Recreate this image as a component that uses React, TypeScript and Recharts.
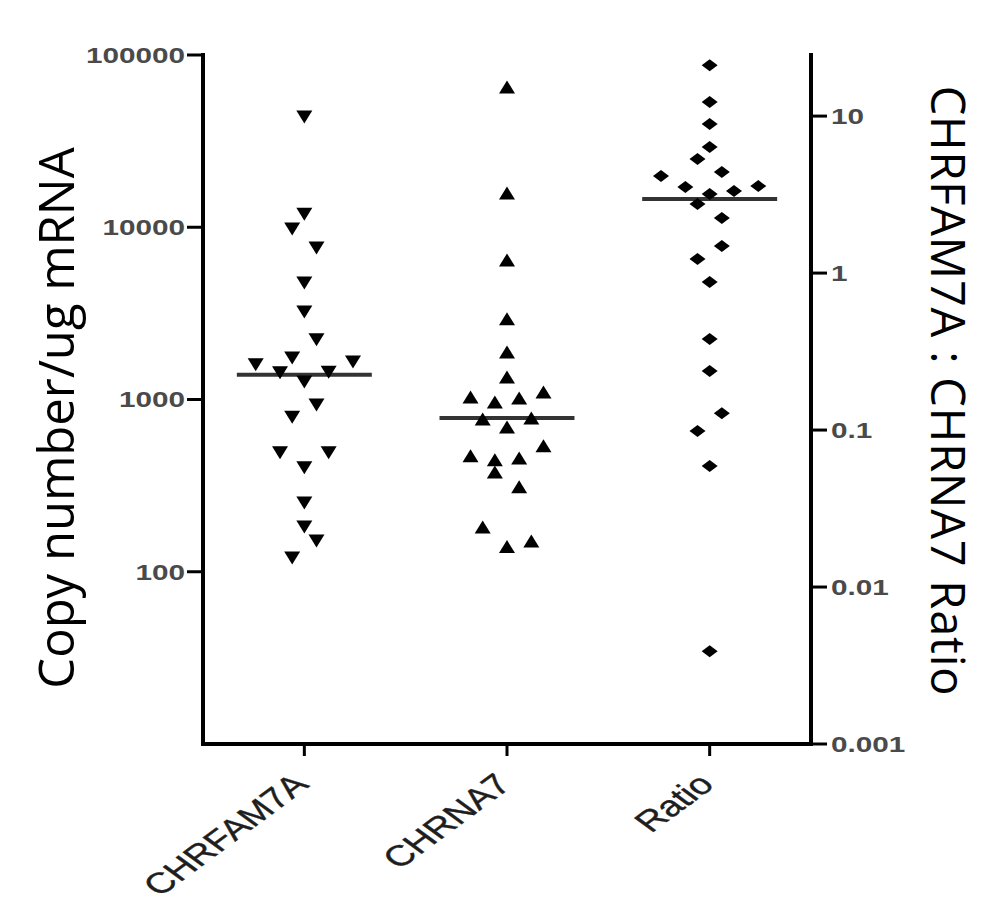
import { ScatterChart, Scatter, XAxis, YAxis, ReferenceLine, Label } from "recharts";

// group names along the x axis
const categories = ["CHRFAM7A", "CHRNA7", "Ratio"];

const chrfam7aValues = [43600, 11900, 9770, 7590, 4750, 3220, 2220, 1740, 1590, 1650, 1430, 1440, 1265, 930, 790, 490, 490, 401, 251, 182, 151, 120];
// horizontal spread slot of each point (Prism-style column scatter)
const chrfam7aSlots = [0, 0, -1, 1, 0, 0, 1, -1, -4, 4, -2, 2, 0, 1, -1, -2, 2, 0, 0, 0, 1, -1];

const chrna7Values = [65200, 15800, 6460, 2940, 1890, 1350, 1035, 968, 1020, 1107, 771, 781, 693, 538, 471, 447, 458, 380, 311, 182, 151, 140];
const chrna7Slots = [0, 0, 0, 0, 0, 0, -3, -1, 1, 3, -2, 2, 0, 3, -3, -1, 1, -1, 1, -2, 2, 0];

const ratioValues = [21.1, 12.3, 8.9, 6.35, 5.32, 4.15, 4.4, 3.53, 3.19, 3.33, 3.58, 2.75, 2.24, 1.49, 1.23, 0.877, 0.38, 0.238, 0.128, 0.0987, 0.059, 0.0039];
const ratioSlots = [0, 0, 0, 0, -1, -4, 1, -2, 0, 2, 4, -1, 1, 1, -1, 0, 0, 0, 1, -1, 0, 0];

const medians = [1390, 781, 2.96];

const leftTicks = [100, 1000, 10000, 100000];
const rightTicks = [0.001, 0.01, 0.1, 1, 10];

const SLOT = 0.06; // spread step, in category units
const HALF_MEDIAN = 0.333;

const toPoints = (vals: number[], slots: number[], idx: number) =>
  vals.map((v, i) => ({ x: idx + 0.5 + slots[i] * SLOT, y: v }));

const famData = toPoints(chrfam7aValues, chrfam7aSlots, 0);
const na7Data = toPoints(chrna7Values, chrna7Slots, 1);
const ratioData = toPoints(ratioValues, ratioSlots, 2);

const TICK_FONT = "'Liberation Sans', Arial, sans-serif";
const TITLE_FONT = "'Open Sans', 'Noto Sans', sans-serif";

function DownTri({ cx, cy }: any) {
  return <polygon points={`${cx - 8},${cy - 6.5} ${cx + 8},${cy - 6.5} ${cx},${cy + 6.5}`} fill="#000" />;
}
function UpTri({ cx, cy }: any) {
  return <polygon points={`${cx - 8},${cy + 6.5} ${cx + 8},${cy + 6.5} ${cx},${cy - 6.5}`} fill="#000" />;
}
function Diamond({ cx, cy }: any) {
  return <polygon points={`${cx - 8},${cy} ${cx},${cy - 6} ${cx + 8},${cy} ${cx},${cy + 6}`} fill="#000" />;
}

function XTick({ x, y, payload }: any) {
  const label = categories[Math.round(payload.value - 0.5)];
  return (
    <g transform={`translate(${x + 6},${y + 30}) scale(1.35,1) rotate(-45)`}>
      <text textAnchor="end" fontSize={29} fontFamily={TICK_FONT} fill="#1e1e1e" stroke="#1e1e1e" strokeWidth={0.4}>
        {label}
      </text>
    </g>
  );
}

function LeftTick({ x, y, payload }: any) {
  return (
    <g transform={`translate(${x},${y}) scale(1.35,1)`}>
      <text textAnchor="end" dy="0.36em" fontSize={22} fontWeight="bold" fontFamily={TICK_FONT} fill="#4a4a4a">
        {String(payload.value)}
      </text>
    </g>
  );
}

function RightTick({ x, y, payload }: any) {
  return (
    <g transform={`translate(${x},${y}) scale(1.35,1)`}>
      <text textAnchor="start" dy="0.36em" fontSize={22} fontWeight="bold" fontFamily={TICK_FONT} fill="#4a4a4a">
        {String(payload.value)}
      </text>
    </g>
  );
}

const LeftTitle = () => (
  <text
    x={66}
    y={410}
    transform="rotate(-90, 66, 410)"
    textAnchor="middle"
    fontSize={49}
    fontFamily={TITLE_FONT}
    fill="#000"
  >
    Copy number/ug mRNA
  </text>
);

const RightTitle = () => (
  <text
    x={923}
    y={383}
    transform="rotate(90, 923, 383)"
    textAnchor="middle"
    fontSize={47}
    letterSpacing={0.8}
    fontFamily={TITLE_FONT}
    fill="#000"
  >
    CHRFAM7A : CHRNA7 Ratio
  </text>
);

const axisLine = { stroke: "#000", strokeWidth: 4, strokeLinecap: "square" as const };
const tickLine = { stroke: "#000", strokeWidth: 3 };

export default function App() {
  return (
    <div style={{ width: 976, height: 905, background: "#fff" }}>
      <ScatterChart width={976} height={905} margin={{ top: 47, right: 0, bottom: 0, left: 0 }}>
        <XAxis
          type="number"
          dataKey="x"
          domain={[0, 3]}
          ticks={[0.5, 1.5, 2.5]}
          height={169}
          axisLine={axisLine}
          tickLine={tickLine}
          tickSize={12}
          tickMargin={0}
          tick={<XTick />}
          interval={0}
        />
        <YAxis
          yAxisId="left"
          type="number"
          dataKey="y"
          scale="log"
          domain={[10, 100000]}
          allowDataOverflow
          ticks={leftTicks}
          width={195}
          axisLine={axisLine}
          tickLine={tickLine}
          tickSize={16}
          tickMargin={2}
          tick={<LeftTick />}
          interval={0}
        >
          <Label content={<LeftTitle />} />
        </YAxis>
        <YAxis
          yAxisId="right"
          orientation="right"
          type="number"
          dataKey="y"
          scale="log"
          domain={[0.001, 24.5]}
          allowDataOverflow
          ticks={rightTicks}
          width={173}
          axisLine={axisLine}
          tickLine={tickLine}
          tickSize={16}
          tickMargin={4}
          tick={<RightTick />}
          interval={0}
        >
          <Label content={<RightTitle />} />
        </YAxis>
        <Scatter yAxisId="left" data={famData} shape={<DownTri />} isAnimationActive={false} />
        <Scatter yAxisId="left" data={na7Data} shape={<UpTri />} isAnimationActive={false} />
        <Scatter yAxisId="right" data={ratioData} shape={<Diamond />} isAnimationActive={false} />
        <ReferenceLine
          yAxisId="left"
          segment={[{ x: 0.5 - HALF_MEDIAN, y: medians[0] }, { x: 0.5 + HALF_MEDIAN, y: medians[0] }]}
          stroke="#333"
          strokeWidth={4}
        />
        <ReferenceLine
          yAxisId="left"
          segment={[{ x: 1.5 - HALF_MEDIAN, y: medians[1] }, { x: 1.5 + HALF_MEDIAN, y: medians[1] }]}
          stroke="#333"
          strokeWidth={4}
        />
        <ReferenceLine
          yAxisId="right"
          segment={[{ x: 2.5 - HALF_MEDIAN, y: medians[2] }, { x: 2.5 + HALF_MEDIAN, y: medians[2] }]}
          stroke="#333"
          strokeWidth={4}
        />
      </ScatterChart>
    </div>
  );
}
